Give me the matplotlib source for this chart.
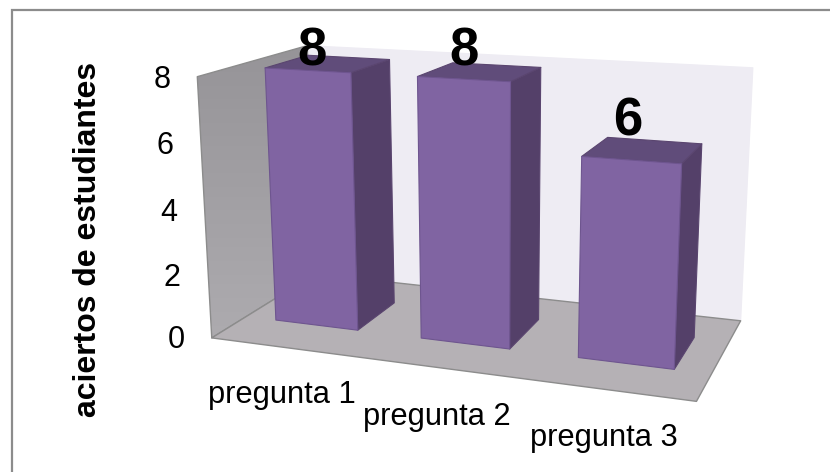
import numpy as np
import matplotlib
matplotlib.use("Agg")
import matplotlib.pyplot as plt
from matplotlib.colors import LinearSegmentedColormap
from matplotlib.patches import Polygon

plt.rcParams['font.family'] = ['Liberation Sans', 'DejaVu Sans']

# Chart data
categories = ['pregunta 1', 'pregunta 2', 'pregunta 3']
aciertos = [8, 8, 6]
y_ticks = [0, 2, 4, 6, 8]
y_title = 'aciertos de estudiantes'

# Camera of the 3-D scene: (category, value, depth) -> canvas pixels
CAMERA = np.array([
    [134.357, -3.012, 151.028, 211.767],
    [5.474, -33.120, -22.627, 337.905],
    [-0.03907, -0.00610, 0.15123, 1.0],
])
BAR_START, BAR_END = 0.212, 0.785
DEPTH_FRONT, DEPTH_BACK = 0.305, 0.71
VALUE_TOP = 8

FRONT = '#8064A2'
SIDE = '#544069'
TOP = '#604C7A'
BAR_EDGE = '#6E558F'
BACK_WALL = '#EEECF3'
FLOOR = '#B5B1B5'
WALL_EDGE = '#8C8C8C'
SIDE_WALL_SHADES = ['#969498', '#ADABAF']


def project(x, y, z):
    h = CAMERA @ np.array([x, y, z, 1.0])
    return h[:2] / h[2]


def face(ax, corners, color, edge=None, lw=0.8, z=1):
    pts = [project(*c) for c in corners]
    patch = Polygon(pts, closed=True, facecolor=color,
                    edgecolor=edge if edge else color,
                    linewidth=lw, joinstyle='round', zorder=z)
    ax.add_patch(patch)
    return patch


fig = plt.figure(figsize=(8.3, 4.72), dpi=100, facecolor='white')
ax = fig.add_axes([0, 0, 1, 1])

# Chart area frame: only the top and left rules are visible
ax.plot([12, 12, 830], [472, 10, 10], color='#8C8C8C', lw=1.6, zorder=0,
        solid_joinstyle='miter')

n = len(categories)
face(ax, [(0, 0, 1), (n, 0, 1), (n, VALUE_TOP, 1), (0, VALUE_TOP, 1)], BACK_WALL, z=1)

# Side wall: darker at the top, fading to a lighter grey at the floor
wall = face(ax, [(0, 0, 0), (0, 0, 1), (0, VALUE_TOP, 1), (0, VALUE_TOP, 0)], 'none',
            edge=WALL_EDGE, lw=1.0, z=2.1)
shade = LinearSegmentedColormap.from_list('muro', SIDE_WALL_SHADES)
img = ax.imshow(np.linspace(0, 1, 64)[:, None], cmap=shade, aspect='auto',
                extent=(190, 320, 340, 44), zorder=2)
img.set_clip_path(wall)

face(ax, [(0, 0, 0), (n, 0, 0), (n, 0, 1), (0, 0, 1)], FLOOR, edge=WALL_EDGE, lw=1.0, z=3)

for i, v in enumerate(aciertos):
    x0, x1 = i + BAR_START, i + BAR_END
    z0, z1 = DEPTH_FRONT, DEPTH_BACK
    base = 4 + i
    face(ax, [(x1, 0, z0), (x1, 0, z1), (x1, v, z1), (x1, v, z0)], SIDE,
         edge='#5A456F', z=base)
    face(ax, [(x0, v, z0), (x1, v, z0), (x1, v, z1), (x0, v, z1)], TOP,
         edge='#5A456F', z=base)
    face(ax, [(x0, 0, z0), (x1, 0, z0), (x1, v, z0), (x0, v, z0)], FRONT,
         edge=BAR_EDGE, z=base)

# Value scale beside the side wall
for t, xpx, ypx in zip(y_ticks, [176, 172, 169, 165, 162], [348, 286, 221, 154, 88]):
    ax.text(xpx, ypx, str(t), fontsize=22, ha='center', va='baseline', color='black', zorder=20)

# Category labels under the floor
for label, xpx, ypx in zip(categories, [208, 363, 530], [403, 425, 446]):
    ax.text(xpx, ypx, label, fontsize=22.2, ha='left', va='baseline', color='black', zorder=20)

# Value labels above the bars
for v, xpx, ypx in zip(aciertos, [312, 464, 628], [65, 65, 135]):
    ax.text(xpx, ypx, str(v), fontsize=38, fontweight='bold', ha='center',
            va='baseline', color='black', zorder=20)

ax.text(96, 239, y_title, fontsize=23, fontweight='bold', rotation=90,
        rotation_mode='anchor', ha='center', va='baseline', color='black', zorder=20)

ax.set_xlim(0, 830)
ax.set_ylim(472, 0)
ax.axis('off')

fig.savefig('out.png', dpi=100, facecolor='white')
